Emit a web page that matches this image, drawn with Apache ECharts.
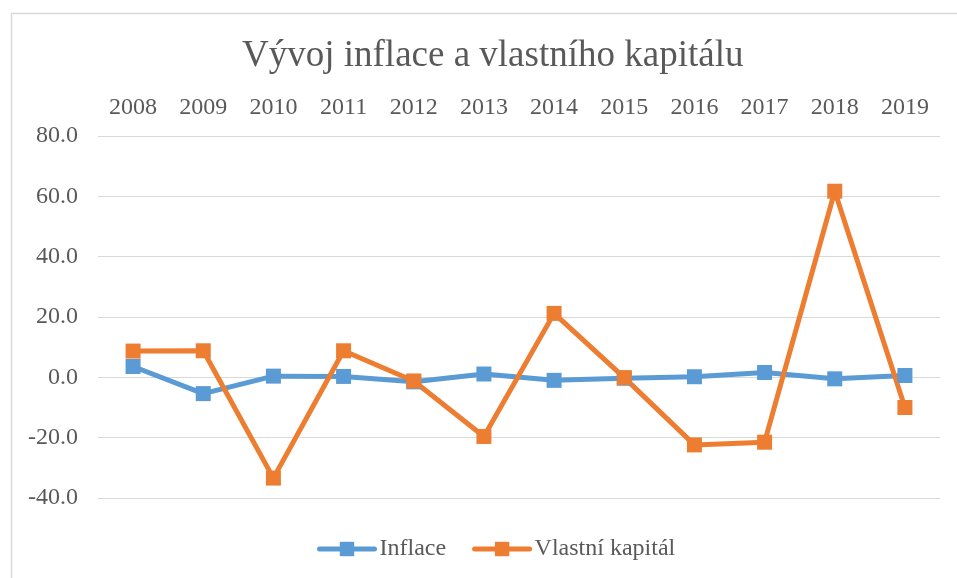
<!DOCTYPE html>
<html>
<head>
<meta charset="utf-8">
<script src="https://cdn.jsdelivr.net/npm/echarts@6/dist/echarts.min.js"></script>
<style>
  html, body { margin: 0; padding: 0; background: #fff; }
  #chart { width: 957px; height: 578px; }
</style>
</head>
<body>
<div id="chart"></div>
<script>
// data
const years = ['2008', '2009', '2010', '2011', '2012', '2013', '2014', '2015', '2016', '2017', '2018', '2019']
const inflace = [3.6, -5.4, 0.4, 0.3, -1.5, 1.1, -1.0, -0.3, 0.2, 1.6, -0.5, 0.6]
const vlastniKapital = [8.7, 8.8, -33.4, 8.8, -1.2, -19.6, 21.2, -0.1, -22.4, -21.5, 61.7, -10.0]

const font = 'Liberation Serif'
const textColor = '#595959'

const chart = echarts.init(document.getElementById('chart'))

chart.setOption({
  backgroundColor: '#fff',
  textStyle: { fontFamily: font, color: textColor },
  graphic: [{
    // outer chart frame
    type: 'rect',
    left: 9,
    top: 11,
    shape: { width: 980, height: 600 },
    style: { fill: 'none', stroke: '#d9d9d9', lineWidth: 1.5 },
    silent: true
  }],
  title: {
    text: 'Vývoj inflace a vlastního kapitálu',
    left: 237,
    top: 33,
    textStyle: { fontFamily: font, fontSize: 37, fontWeight: 'normal', color: textColor }
  },
  grid: {
    left: 98,
    right: 17,
    top: 136,
    bottom: 80
  },
  legend: {
    bottom: 12,
    left: 312,
    itemWidth: 55,
    itemHeight: 18,
    itemGap: 26,
    lineStyle: { width: 5, cap: 'round' },
    textStyle: { fontFamily: font, fontSize: 24, color: textColor },
    data: ['Inflace', 'Vlastní kapitál']
  },
  xAxis: {
    type: 'category',
    position: 'top',
    data: years,
    axisLine: { show: false },
    axisTick: { show: false },
    axisLabel: { fontFamily: font, fontSize: 24, color: textColor, margin: 16 }
  },
  yAxis: {
    type: 'value',
    min: -40,
    max: 80,
    interval: 20,
    axisLine: { show: false },
    axisTick: { show: false },
    splitLine: { lineStyle: { color: '#d9d9d9', width: 1 } },
    axisLabel: {
      fontFamily: font,
      fontSize: 24,
      color: textColor,
      margin: 20,
      formatter: v => v.toFixed(1)
    }
  },
  series: [{
    name: 'Inflace',
    type: 'line',
    data: inflace,
    symbol: 'rect',
    symbolSize: 15,
    itemStyle: { color: '#5B9BD5' },
    lineStyle: { width: 5, color: '#5B9BD5' }
  }, {
    name: 'Vlastní kapitál',
    type: 'line',
    data: vlastniKapital,
    symbol: 'rect',
    symbolSize: 15,
    itemStyle: { color: '#ED7D31' },
    lineStyle: { width: 5, color: '#ED7D31' }
  }]
})
</script>
</body>
</html>
